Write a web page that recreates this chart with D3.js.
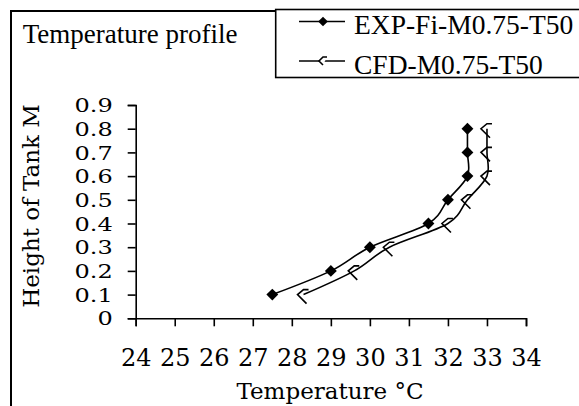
<!DOCTYPE html>
<html>
<head>
<meta charset="utf-8">
<script src="https://cdn.jsdelivr.net/npm/d3@7"></script>
<style>
  body { margin: 0; background: #fff; }
  svg { display: block; }
</style>
</head>
<body>
<div id="chart"></div>
<script>
// data
const heights = [0.1, 0.2, 0.3, 0.4, 0.5, 0.6, 0.7, 0.8];
const expTemps = [27.5, 29.0, 30.0, 31.5, 32.0, 32.5, 32.5, 32.5];
const cfdTemps = [28.3, 29.6, 30.5, 32.0, 32.5, 33.0, 33.0, 33.0];
const seriesNames = ["EXP-Fi-M0.75-T50", "CFD-M0.75-T50"];
const xTicks = [24, 25, 26, 27, 28, 29, 30, 31, 32, 33, 34];
const yTicks = [0, 0.1, 0.2, 0.3, 0.4, 0.5, 0.6, 0.7, 0.8, 0.9];
const yTickLabels = ["0", "0.1", "0.2", "0.3", "0.4", "0.5", "0.6", "0.7", "0.8", "0.9"];

const W = 579, H = 406;
const axisFont = "'DejaVu Serif', serif";
const timesFont = "'Liberation Serif', 'Times New Roman', serif";

const svg = d3.select("#chart").append("svg")
    .attr("width", W)
    .attr("height", H);

// outer chart frame (runs off the right and bottom of the picture)
svg.append("rect")
    .attr("x", 11).attr("y", 11)
    .attr("width", 640).attr("height", 440)
    .attr("fill", "#fff")
    .attr("stroke", "#000")
    .attr("stroke-width", 2);

const x = d3.scaleLinear().domain([24, 34]).range([135.7, 526]);
const y = d3.scaleLinear().domain([0, 0.9]).range([318.3, 105]);

// x axis
const gx = svg.append("g")
    .attr("transform", `translate(0,${y(0)})`)
    .call(d3.axisBottom(x).tickValues(xTicks).tickSize(8).tickFormat(d3.format("d")));
gx.select(".domain").attr("stroke-width", 1.6);
gx.selectAll(".tick line").attr("stroke-width", 1.6);
gx.selectAll(".tick text")
    .attr("y", 47.5).attr("dy", 0)
    .style("font-family", axisFont)
    .style("font-size", "24px")
    .attr("fill", "#000");

// y axis
const gy = svg.append("g")
    .attr("transform", `translate(${x(24)},0)`)
    .call(d3.axisLeft(y).tickValues(yTicks).tickSize(8)
        .tickFormat((d, i) => yTickLabels[i]));
gy.select(".domain").attr("stroke-width", 1.6);
gy.selectAll(".tick line").attr("stroke-width", 1.6);
// labels in the reference are stretched sideways
gy.selectAll(".tick text")
    .attr("x", 0).attr("dy", "0.36em")
    .attr("transform", "translate(-23,0) scale(1.3,1)")
    .style("font-family", axisFont)
    .style("font-size", "18.5px")
    .attr("fill", "#000");

// axis titles
svg.append("text")
    .attr("x", 330).attr("y", 399)
    .attr("text-anchor", "middle")
    .style("font-family", axisFont)
    .style("font-size", "23px")
    .text("Temperature °C");

svg.append("text")
    .attr("transform", "translate(39,206) rotate(-90)")
    .attr("text-anchor", "middle")
    .style("font-family", axisFont)
    .style("font-size", "23px")
    .text("Height of Tank M");

// chart title
svg.append("text")
    .attr("x", 22.7).attr("y", 42.7)
    .style("font-family", timesFont)
    .style("font-size", "27px")
    .text("Temperature profile");

// smoothed lines
const line = d3.line()
    .x(d => x(d[0]))
    .y(d => y(d[1]))
    .curve(d3.curveCardinal.tension(0));

const expData = expTemps.map((t, i) => [t, heights[i]]);
const cfdData = cfdTemps.map((t, i) => [t, heights[i]]);

svg.append("path")
    .datum(cfdData)
    .attr("d", line)
    .attr("fill", "none")
    .attr("stroke", "#000")
    .attr("stroke-width", 1.6);

svg.append("path")
    .datum(expData)
    .attr("d", line)
    .attr("fill", "none")
    .attr("stroke", "#000")
    .attr("stroke-width", 1.6);

const diamond = d3.symbol().type(d3.symbolDiamond2).size(90);
const openMark = "M5,-5 L0,-5 L-6,0 L0,6 L3,9";

svg.selectAll(".cfd-mark")
    .data(cfdData)
    .join("path")
    .attr("class", "cfd-mark")
    .attr("transform", d => `translate(${x(d[0])},${y(d[1])})`)
    .attr("d", openMark)
    .attr("fill", "none")
    .attr("stroke", "#000")
    .attr("stroke-width", 1.6);

svg.selectAll(".exp-mark")
    .data(expData)
    .join("path")
    .attr("class", "exp-mark")
    .attr("transform", d => `translate(${x(d[0])},${y(d[1])})`)
    .attr("d", diamond)
    .attr("fill", "#000");

// legend box
const legend = svg.append("g");
legend.append("rect")
    .attr("x", 275.7).attr("y", 9.5)
    .attr("width", 400).attr("height", 68)
    .attr("fill", "#fff")
    .attr("stroke", "#000")
    .attr("stroke-width", 1.6);

const rows = [
    { name: seriesNames[0], lineY: 21.5, textY: 34.3, filled: true },
    { name: seriesNames[1], lineY: 61, textY: 73.5, filled: false }
];
rows.forEach(r => {
    legend.append("line")
        .attr("x1", 299).attr("x2", 345)
        .attr("y1", r.lineY).attr("y2", r.lineY)
        .attr("stroke", "#000").attr("stroke-width", 1.6);
    if (r.filled) {
        legend.append("path")
            .attr("transform", `translate(323,${r.lineY})`)
            .attr("d", d3.symbol().type(d3.symbolDiamond2).size(60))
            .attr("fill", "#000");
    } else {
        legend.append("path")
            .attr("transform", `translate(323,${r.lineY})`)
            .attr("d", "M4,-4 L0,-4 L-4,0 L0,4")
            .attr("fill", "#fff")
            .attr("stroke", "#000").attr("stroke-width", 1.6);
    }
    legend.append("text")
        .attr("x", 354).attr("y", r.textY)
        .style("font-family", timesFont)
        .style("font-size", "27.5px")
        .text(r.name);
});
</script>
</body>
</html>
